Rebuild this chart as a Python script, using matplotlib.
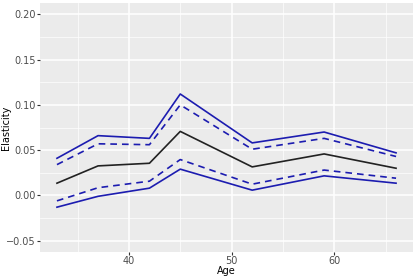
import matplotlib
matplotlib.use("Agg")
import matplotlib.pyplot as plt
import numpy as np

age = [33, 37, 42, 45, 52, 59, 66]
estimate = [0.0135, 0.0326, 0.0355, 0.0707, 0.0315, 0.0458, 0.030]
upper_95 = [0.041, 0.066, 0.063, 0.112, 0.058, 0.070, 0.047]
upper_90 = [0.034, 0.057, 0.056, 0.100, 0.051, 0.063, 0.043]
lower_90 = [-0.006, 0.0085, 0.0157, 0.0396, 0.0124, 0.028, 0.019]
lower_95 = [-0.013, -0.001, 0.008, 0.029, 0.0058, 0.0216, 0.0135]

x_ticks = [40, 50, 60]
y_ticks = [-0.05, 0.00, 0.05, 0.10, 0.15, 0.20]

blue = "#1c1cb0"

fig = plt.figure(figsize=(4.15, 2.77), dpi=100)
ax = fig.add_axes([40 / 415, 25 / 277, 373 / 415, 249 / 277])
ax.set_facecolor("#EBEBEB")

ax.plot(age, upper_95, c=blue, lw=1.2)
ax.plot(age, upper_90, c=blue, lw=1.2, ls=(0, (4, 3)))
ax.plot(age, estimate, c="#222222", lw=1.2)
ax.plot(age, lower_90, c=blue, lw=1.2, ls=(0, (4, 3)))
ax.plot(age, lower_95, c=blue, lw=1.2)

x_range = max(age) - min(age)
ax.set_xlim(min(age) - 0.05 * x_range, max(age) + 0.05 * x_range)
ax.set_ylim(-0.05 - 0.0125, 0.20 + 0.0125)

ax.set_xticks(x_ticks)
ax.set_xticks([35, 45, 55, 65], minor=True)
ax.set_yticks(y_ticks)
ax.set_yticks([-0.025, 0.025, 0.075, 0.125, 0.175], minor=True)
ax.set_yticklabels([f"{v:.2f}".replace("-", "\u2212") for v in y_ticks])

ax.grid(which="major", color="white", lw=1.1)
ax.grid(which="minor", color="white", lw=0.5)
ax.set_axisbelow(True)
for s in ax.spines.values():
    s.set_visible(False)

ax.tick_params(which="major", length=2, color="#333333", labelsize=7,
               labelcolor="#4D4D4D", pad=1)
ax.tick_params(which="minor", length=0)

ax.set_xlabel("Age", fontsize=7, labelpad=0)
ax.set_ylabel("Elasticity", fontsize=7)
ax.yaxis.set_label_coords(-29 / 373, 0.5)

fig.savefig("out.png", dpi=100)
plt.close(fig)
